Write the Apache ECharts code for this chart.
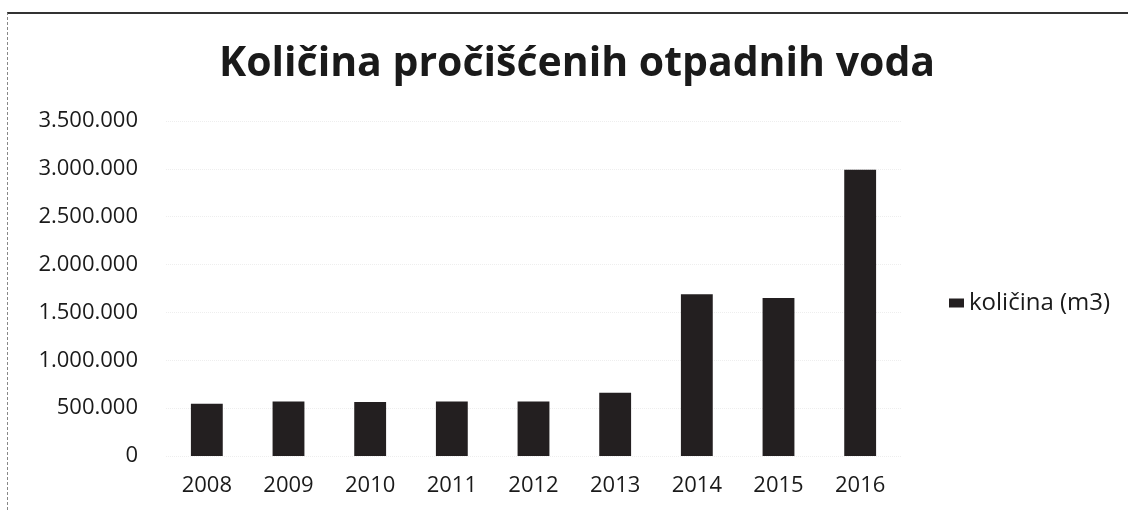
<!DOCTYPE html>
<html>
<head>
<meta charset="utf-8">
<script src="https://cdn.jsdelivr.net/npm/echarts@6/dist/echarts.min.js"></script>
<style>
  html, body { margin: 0; padding: 0; background: #fff; }
  #chart { position: absolute; left: 0; top: 0; width: 1128px; height: 510px; }
  #frame { position: absolute; left: 7px; top: 12px; width: 1121px; height: 498px; box-sizing: border-box;
           border-top: 2px solid #333; border-left: 1px dashed #888; }
</style>
</head>
<body>
<div id="chart"></div>
<div id="frame"></div>
<script>
const titleText = "Količina pročišćenih otpadnih voda";
const seriesName = "količina (m3)";
const years = ["2008", "2009", "2010", "2011", "2012", "2013", "2014", "2015", "2016"];
const amounts = [545000, 570000, 565000, 570000, 570000, 660000, 1690000, 1650000, 2990000];
const yMax = 3500000;
const yStep = 500000;

// 1500000 -> "1.500.000"
function fmt(v) {
  return String(v).replace(/\B(?=(\d{3})+(?!\d))/g, ".");
}

const chart = echarts.init(document.getElementById("chart"));
chart.setOption({
  animation: false,
  textStyle: { fontFamily: "Open Sans", color: "#222" },
  title: {
    text: titleText,
    left: 572,
    textAlign: "center",
    top: 39,
    textStyle: { fontFamily: "Open Sans", fontWeight: "bold", fontSize: 41, color: "#1a1a1a" }
  },
  legend: {
    orient: "vertical",
    left: 944,
    top: 286,
    itemWidth: 15,
    itemHeight: 9,
    itemGap: 6,
    textStyle: { fontSize: 24, color: "#1a1a1a", fontFamily: "Open Sans" },
    data: [{ name: seriesName, icon: "rect" }]
  },
  grid: { left: 166, right: 227, top: 121, bottom: 54 },
  xAxis: {
    type: "category",
    data: years,
    axisLine: { show: false },
    axisTick: { show: false },
    axisLabel: { fontSize: 22, color: "#1a1a1a", margin: 19 }
  },
  yAxis: {
    type: "value",
    min: 0,
    max: yMax,
    interval: yStep,
    axisLine: { show: false },
    axisTick: { show: false },
    splitLine: { lineStyle: { color: "#eeeeee", type: "dotted" } },
    axisLabel: { fontSize: 22, color: "#1a1a1a", margin: 28, formatter: fmt }
  },
  series: [{
    name: seriesName,
    type: "bar",
    data: amounts,
    barWidth: "39%",
    itemStyle: { color: "#231f20" }
  }]
});
</script>
</body>
</html>
